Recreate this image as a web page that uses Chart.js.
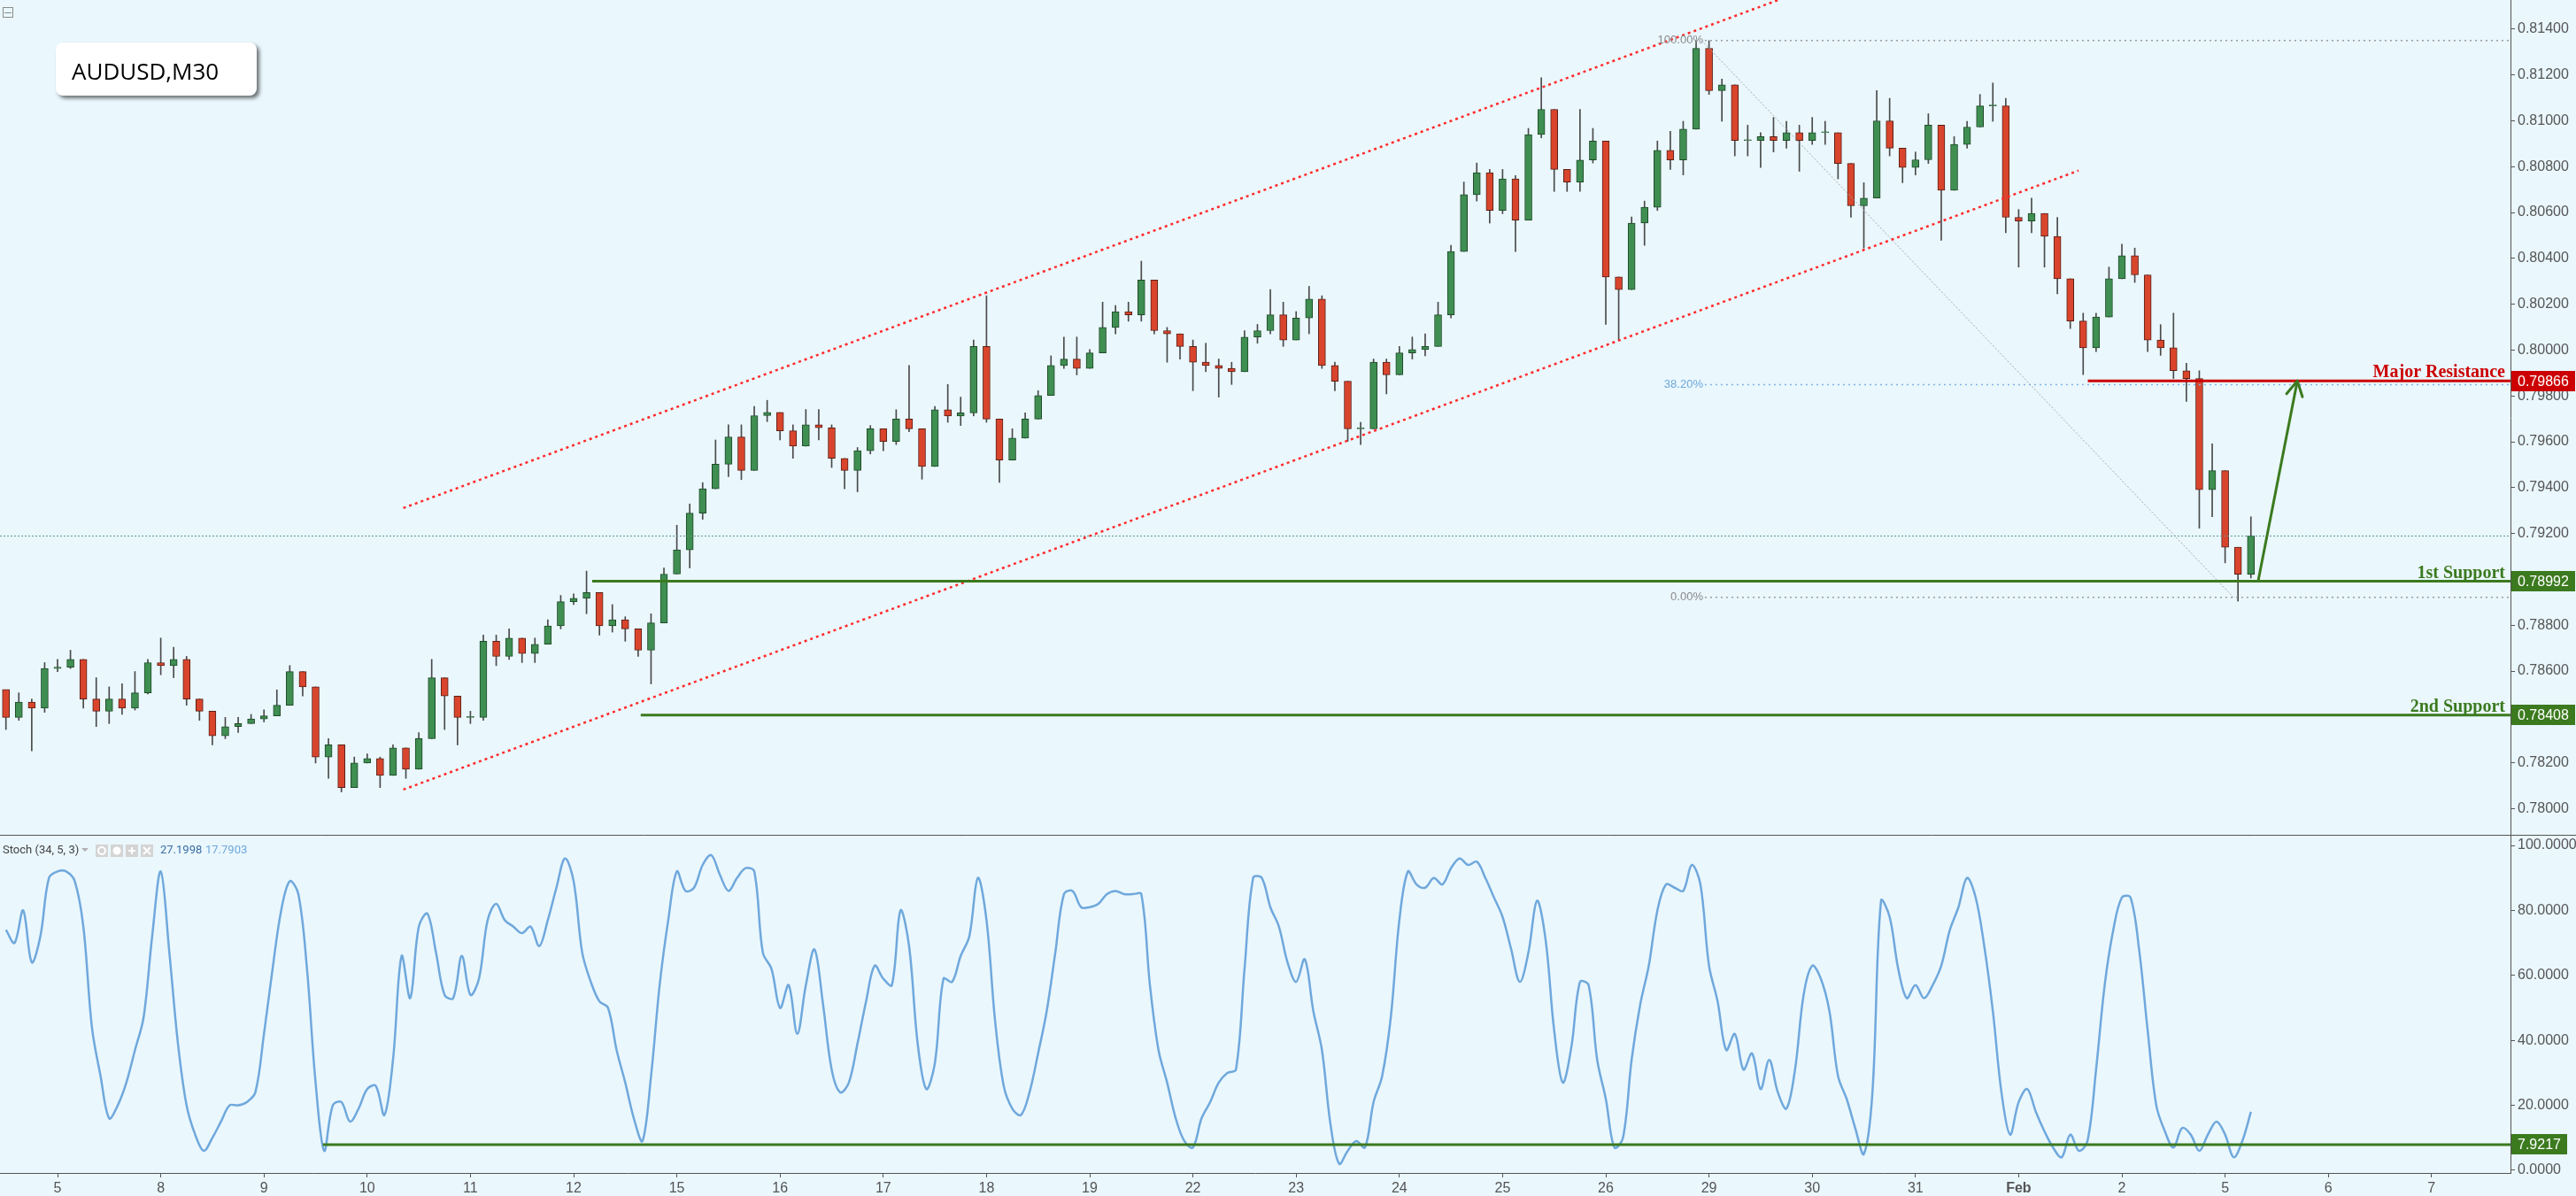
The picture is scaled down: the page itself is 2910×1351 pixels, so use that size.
<!DOCTYPE html>
<html>
<head>
<meta charset="utf-8">
<title>AUDUSD,M30</title>
<script src="https://cdn.jsdelivr.net/npm/chart.js@4.4.1/dist/chart.umd.min.js"></script>
<style>
  html, body { margin: 0; padding: 0; background: #eaf7fd; }
  #wrap { position: relative; width: 2910px; height: 1351px; overflow: hidden; }
  #priceBox { position: absolute; left: 0; top: 0; width: 2910px; height: 944px; }
  #stochBox { position: absolute; left: 0; top: 944px; width: 2910px; height: 407px; }
</style>
</head>
<body>
<div id="wrap">
  <div id="priceBox"><canvas id="price"></canvas></div>
  <div id="stochBox"><canvas id="stoch"></canvas></div>
</div>
<script>
// x values are trading days counted from the "5" label; one bar = 3 hours
const dayLabels = ['5', '8', '9', '10', '11', '12', '15', '16', '17', '18', '19', '22', '23', '24', '25', '26', '29', '30', '31', 'Feb', '2', '5', '6', '7'];
const priceTicks = [0.780, 0.782, 0.784, 0.786, 0.788, 0.790, 0.792, 0.794, 0.796, 0.798, 0.800, 0.802, 0.804, 0.806, 0.808, 0.810, 0.812, 0.814];
const stochTicks = [0, 20, 40, 60, 80, 100];

const firstBarDay = -0.5;
const barStep = 0.125;
const firstOpen = 0.78520;

const priceClose = [
  .78398, .78465, .78438, .78611, .78617, .78651, .78478, .78425, .78478, .78438,
  .78505, .78637, .78624, .78651, .78478, .78425, .78318, .78358, .78371, .78391,
  .78405, .78451, .78598, .78531, .78225, .78278, .78092, .78199, .78219, .78145,
  .78265, .78172, .78305, .78571, .78491, .78398, .78398, .78730, .78664, .78744,
  .78677, .78717, .78797, .78903, .78917, .78943, .78797, .78824, .78784, .78691,
  .78810, .79023, .79129, .79289, .79395, .79502, .79621, .79475, .79714, .79728,
  .79648, .79581, .79674, .79661, .79528, .79475, .79561, .79657, .79602, .79699,
  .79657, .79492, .79740, .79713, .79726, .80016, .79699, .79520, .79616, .79699,
  .79802, .79933, .79961, .79920, .79988, .80099, .80168, .80154, .80306, .80085,
  .80071, .80016, .79947, .79933, .79920, .79906, .80057, .80085, .80154, .80044,
  .80140, .80223, .79933, .79864, .79657, .79657, .79947, .79892, .79988, .80002,
  .80016, .80154, .80430, .80678, .80774, .80609, .80747, .80567, .80940, .81050,
  .80788, .80733, .80829, .80912, .80319, .80264, .80554, .80623, .80871, .80829,
  .80964, .81316, .81132, .81157, .80914, .80914, .80931, .80914, .80948, .80914,
  .80948, .80948, .80814, .80630, .80663, .81000, .80881, .80797, .80830, .80981,
  .80697, .80897, .80973, .81065, .81065, .80579, .80563, .80596, .80496, .80311,
  .80127, .80010, .80144, .80311, .80412, .80328, .80044, .80010, .79910, .79876,
  .79391, .79474, .79140, .79022, .79190
];
const priceHigh = [
  .78518, .78505, .78478, .78637, .78651, .78691, .78651, .78571, .78531, .78545,
  .78598, .78651, .78744, .78704, .78664, .78478, .78425, .78398, .78398, .78411,
  .78431, .78518, .78624, .78598, .78531, .78305, .78278, .78225, .78239, .78225,
  .78278, .78265, .78332, .78651, .78571, .78491, .78425, .78757, .78757, .78784,
  .78744, .78744, .78824, .78930, .78937, .79036, .78943, .78890, .78837, .78784,
  .78850, .79050, .79236, .79329, .79422, .79608, .79674, .79674, .79754, .79781,
  .79728, .79674, .79741, .79741, .79674, .79528, .79575, .79671, .79657, .79740,
  .79933, .79657, .79754, .79850, .79795, .80044, .80237, .79699, .79657, .79726,
  .79823, .79975, .80057, .80057, .80002, .80209, .80195, .80209, .80388, .80306,
  .80099, .80071, .80044, .80030, .79961, .79947, .80085, .80112, .80264, .80209,
  .80168, .80278, .80237, .79947, .79864, .79685, .79961, .79961, .80016, .80057,
  .80071, .80209, .80457, .80733, .80816, .80788, .80788, .80761, .80967, .81188,
  .81050, .80788, .81050, .80967, .80912, .80319, .80581, .80650, .80912, .80954,
  .80998, .81350, .81350, .81182, .81157, .80981, .80948, .81015, .80998, .80981,
  .81015, .80998, .80948, .80814, .80730, .81132, .81098, .80881, .80864, .81031,
  .80981, .80931, .80998, .81115, .81165, .81098, .80613, .80663, .80596, .80579,
  .80311, .80161, .80161, .80362, .80462, .80445, .80328, .80111, .80161, .79943,
  .79910, .79591, .79474, .79140, .79273
];
const priceLow = [
  .78345, .78385, .78252, .78420, .78598, .78611, .78438, .78358, .78371, .78411,
  .78430, .78500, .78584, .78571, .78451, .78385, .78278, .78305, .78332, .78371,
  .78378, .78411, .78451, .78491, .78199, .78132, .78073, .78092, .78199, .78092,
  .78145, .78132, .78172, .78305, .78345, .78278, .78371, .78385, .78624, .78651,
  .78637, .78637, .78717, .78784, .78890, .78850, .78757, .78770, .78730, .78664,
  .78544, .78810, .79023, .79050, .79262, .79395, .79448, .79435, .79475, .79688,
  .79608, .79528, .79581, .79608, .79488, .79395, .79382, .79547, .79561, .79588,
  .79644, .79437, .79492, .79685, .79671, .79713, .79685, .79423, .79520, .79616,
  .79699, .79802, .79920, .79892, .79920, .79988, .80071, .80126, .80126, .80071,
  .79947, .79961, .79823, .79906, .79795, .79850, .79906, .80030, .80071, .80016,
  .80044, .80071, .79920, .79823, .79602, .79588, .79657, .79809, .79892, .79961,
  .79975, .80016, .80140, .80430, .80650, .80554, .80595, .80430, .80567, .80926,
  .80692, .80692, .80692, .80816, .80112, .80043, .80264, .80457, .80609, .80788,
  .80764, .80964, .81115, .80998, .80847, .80847, .80797, .80864, .80881, .80780,
  .80897, .80897, .80747, .80579, .80445, .80663, .80847, .80730, .80764, .80814,
  .80479, .80697, .80881, .80973, .80998, .80512, .80362, .80512, .80362, .80245,
  .80094, .79893, .79993, .80144, .80311, .80295, .79993, .79977, .79876, .79776,
  .79223, .79273, .79072, .78905, .79006
];

// Stoch %K, one value every 2 hours
const stochFirstDay = -0.5;
const stochStep = 1 / 12;
const stochValues = [
  74, 70, 80, 64, 72, 90, 92, 92, 89, 75, 44, 29, 16, 20, 27, 37, 47, 72, 92, 67,
  39, 20, 11, 6, 10, 15, 20, 20, 21, 24, 42, 62, 80, 89, 85, 62, 27, 6, 20, 21,
  15, 19, 25, 26, 17, 34, 66, 53, 75, 79, 67, 54, 53, 66, 54, 59, 77, 82, 77, 75,
  73, 75, 69, 77, 87, 96, 89, 67, 58, 52, 50, 37, 27, 16, 9, 29, 57, 77, 92, 86,
  87, 94, 97, 91, 86, 90, 93, 92, 67, 62, 50, 57, 42, 57, 68, 51, 31, 24, 27, 39,
  52, 63, 59, 57, 80, 69, 39, 25, 33, 59, 58, 66, 72, 90, 77, 46, 26, 19, 17, 24,
  36, 49, 67, 85, 86, 81, 81, 82, 85, 86, 85, 85, 85, 57, 37, 27, 16, 9, 7, 16,
  21, 27, 30, 31, 62, 90, 90, 81, 75, 64, 58, 65, 49, 37, 14, 2, 6, 9, 7, 21,
  29, 47, 77, 92, 88, 87, 90, 88, 93, 96, 94, 95, 90, 84, 78, 68, 58, 67, 83, 71,
  43, 27, 38, 58, 57, 34, 22, 7, 10, 34, 51, 63, 80, 88, 87, 86, 94, 88, 63, 52,
  37, 42, 31, 36, 25, 34, 24, 19, 31, 54, 63, 59, 49, 29, 22, 13, 5, 24, 83, 78,
  62, 53, 57, 53, 57, 63, 74, 81, 90, 84, 69, 49, 24, 11, 21, 25, 18, 12, 7, 4,
  11, 6, 9, 31, 57, 74, 84, 84, 68, 43, 20, 12, 7, 13, 11, 6, 11, 15, 11, 4,
  9, 18
];
const stochLast = [27.1998, 17.7903];
const stochLevel = 7.9217;
const stochLevelStart = 2.57;

// drawings on the price pane: [day, price]
const channelUpper = [[3.35, 0.79311], [17.2, 0.81615]];
const channelLower = [[3.35, 0.78083], [19.58, 0.80783]];
const fibHigh = 0.81350;
const fibLow = 0.78922;
const fibRatios = [1, 0.382, 0];
const fibStartDay = 15.96;
const fibDiagonal = [[15.93, 0.81350], [21.08, 0.78922]];
const levelValues = [0.79866, 0.78992, 0.78408];
const levelNames = ['Major Resistance', '1st Support', '2nd Support'];
const levelStartDays = [19.67, 5.18, 5.65];
const lastPrice = 0.79189;
const arrowLine = [[21.32, 0.78992], [21.70, 0.79866]];

const X_MIN = -0.5575, X_MAX = 23.765;
const PRICE_MIN = 0.77882, PRICE_MAX = 0.81527;
const STOCH_MIN = -0.82, STOCH_MAX = 103;

const BG = '#eaf7fd';
const AXIS = '#555555';
const TICK_FONT = { family: '"Liberation Sans", Arial, sans-serif', size: 16 };
const RED = '#cc0000';
const GREEN = '#3b7a1e';
const levelColors = [RED, GREEN, GREEN];

function lineSet(points, color, width, dash, order) {
  return {
    type: 'line',
    data: points.map(([x, y]) => ({ x, y })),
    borderColor: color,
    borderWidth: width,
    borderDash: dash || [],
    pointRadius: 0,
    fill: false,
    tension: 0,
    order: order === undefined ? 0 : order,
  };
}

// keep the plot areas exactly where the reference has them
function noPadding(scale) {
  scale.paddingTop = 0;
  scale.paddingBottom = 0;
  scale.paddingLeft = 0;
  scale.paddingRight = 0;
}
function fixedAxisWidth(scale) {
  scale.width = 74;
  noPadding(scale);
}

const barDays = priceClose.map((_, i) => firstBarDay + i * barStep);
const opens = priceClose.map((c, i) => (i === 0 ? firstOpen : priceClose[i - 1]));
const isUp = priceClose.map((c, i) => c >= opens[i]);

const priceDatasets = [
  {
    type: 'bar',
    data: barDays.map((x, i) => ({ x, y: [priceLow[i], priceHigh[i]] })),
    backgroundColor: '#4a4a4a',
    barThickness: 1,
    order: 6,
  },
  {
    type: 'bar',
    data: barDays.map((x, i) => ({ x, y: [opens[i], priceClose[i]] })),
    backgroundColor: isUp.map((u) => (u ? '#3f8e52' : '#d9452c')),
    borderColor: isUp.map((u) => (u ? '#1f4a28' : '#5a1f16')),
    borderWidth: 1,
    borderSkipped: false,
    barThickness: 8,
    minBarLength: 1,
    order: 5,
  },
  lineSet([[X_MIN, lastPrice], [X_MAX, lastPrice]], '#5f9a87', 1, [2, 2], 4),
  lineSet(channelUpper, '#ff2a2a', 2.5, [3, 4], 1),
  lineSet(channelLower, '#ff2a2a', 2.5, [3, 4], 1),
  lineSet(fibDiagonal, '#a0a8ad', 1, [2, 2], 3),
];
fibRatios.forEach((r) => {
  const v = fibLow + (fibHigh - fibLow) * r;
  priceDatasets.push(lineSet([[fibStartDay, v], [X_MAX, v]], r === 0.382 ? '#7fb3e3' : '#9a9a9a', 1.5, [2, 4], 3));
});
levelValues.forEach((v, i) => {
  priceDatasets.push(lineSet([[levelStartDays[i], v], [X_MAX, v]], levelColors[i], 3, [], 0));
});
priceDatasets.push(lineSet(arrowLine, GREEN, 3, [], 0));

function axisTag(ctx, area, y, text, color, width) {
  ctx.fillStyle = color;
  ctx.fillRect(area.right + 1, Math.round(y - 11.5), width, 23);
  ctx.fillStyle = '#ffffff';
  ctx.font = '16px "Liberation Sans", Arial, sans-serif';
  ctx.textAlign = 'left';
  ctx.textBaseline = 'middle';
  ctx.fillText(text, area.right + 8, y + 1);
}

const priceDecor = {
  id: 'priceDecor',
  afterDraw(chart) {
    const { ctx, chartArea: area, scales } = chart;
    const xs = scales.x, ys = scales.y;
    ctx.save();

    // level captions and price tags
    levelValues.forEach((v, i) => {
      const y = ys.getPixelForValue(v);
      ctx.font = 'bold 20px "Liberation Serif", "Times New Roman", serif';
      ctx.fillStyle = levelColors[i];
      ctx.textAlign = 'right';
      ctx.textBaseline = 'alphabetic';
      ctx.fillText(levelNames[i], area.right - 6, y - 4);
      axisTag(ctx, area, y, v.toFixed(5), levelColors[i], 72);
    });

    // fib captions
    fibRatios.forEach((r) => {
      const v = fibLow + (fibHigh - fibLow) * r;
      ctx.font = '13px "Liberation Sans", Arial, sans-serif';
      ctx.fillStyle = r === 0.382 ? '#6fa8dc' : '#8a8a8a';
      ctx.textAlign = 'right';
      ctx.textBaseline = 'middle';
      ctx.fillText((r * 100).toFixed(2) + '%', xs.getPixelForValue(fibStartDay) - 2, ys.getPixelForValue(v));
    });

    // arrow head
    const p0 = { x: xs.getPixelForValue(arrowLine[0][0]), y: ys.getPixelForValue(arrowLine[0][1]) };
    const p1 = { x: xs.getPixelForValue(arrowLine[1][0]), y: ys.getPixelForValue(arrowLine[1][1]) };
    const ang = Math.atan2(p1.y - p0.y, p1.x - p0.x);
    ctx.strokeStyle = GREEN;
    ctx.lineWidth = 3;
    ctx.lineCap = 'round';
    ctx.beginPath();
    [-1, 1].forEach((s) => {
      ctx.moveTo(p1.x, p1.y);
      ctx.lineTo(p1.x - 19 * Math.cos(ang + s * 0.5), p1.y - 19 * Math.sin(ang + s * 0.5));
    });
    ctx.stroke();

    // pane separator
    ctx.strokeStyle = AXIS;
    ctx.lineWidth = 1;
    ctx.lineCap = 'butt';
    ctx.beginPath();
    ctx.moveTo(0, area.bottom - 0.5);
    ctx.lineTo(chart.width, area.bottom - 0.5);
    ctx.stroke();

    // collapse icon
    ctx.strokeStyle = '#8c8c8c';
    ctx.strokeRect(3.5, 8.5, 11, 11);
    ctx.beginPath();
    ctx.moveTo(5, 14.5);
    ctx.lineTo(13, 14.5);
    ctx.stroke();

    // symbol box
    ctx.save();
    ctx.shadowColor = 'rgba(0,0,0,0.55)';
    ctx.shadowBlur = 4;
    ctx.shadowOffsetX = 3;
    ctx.shadowOffsetY = 3;
    ctx.fillStyle = '#ffffff';
    ctx.beginPath();
    ctx.roundRect(63, 48, 227, 60, 8);
    ctx.fill();
    ctx.restore();
    ctx.fillStyle = '#000000';
    ctx.font = '26px "Open Sans", "Noto Sans", sans-serif';
    ctx.textAlign = 'left';
    ctx.textBaseline = 'alphabetic';
    ctx.fillText('AUDUSD,M30', 81, 90);

    ctx.restore();
  },
};

const stochDecor = {
  id: 'stochDecor',
  afterDraw(chart) {
    const { ctx, chartArea: area, scales } = chart;
    ctx.save();
    // hide the part of the 0 label that falls below the pane
    ctx.fillStyle = BG;
    ctx.fillRect(area.right + 1, area.bottom + 1, chart.width - area.right, chart.height - area.bottom);

    axisTag(ctx, area, scales.y.getPixelForValue(stochLevel), stochLevel.toFixed(4), GREEN, 63);

    ctx.font = '13px Roboto, "Liberation Sans", sans-serif';
    ctx.textBaseline = 'middle';
    ctx.textAlign = 'left';
    ctx.fillStyle = '#444444';
    ctx.fillText('Stoch (34, 5, 3)', 3, 17);
    ctx.fillStyle = '#b0b0b0';
    ctx.beginPath();
    ctx.moveTo(92, 14); ctx.lineTo(100, 14); ctx.lineTo(96, 18); ctx.closePath();
    ctx.fill();
    [108, 125, 142, 159].forEach((x, i) => {
      ctx.fillStyle = '#d4d4d4';
      ctx.fillRect(x, 10, 14, 14);
      ctx.strokeStyle = '#ffffff';
      ctx.fillStyle = '#ffffff';
      ctx.lineWidth = 2;
      ctx.beginPath();
      if (i === 0) { ctx.arc(x + 7, 17, 4, 0, Math.PI * 2); ctx.stroke(); }
      if (i === 1) { ctx.arc(x + 7, 17, 4.5, 0, Math.PI * 2); ctx.fill(); }
      if (i === 2) { ctx.moveTo(x + 3, 17); ctx.lineTo(x + 11, 17); ctx.moveTo(x + 7, 13); ctx.lineTo(x + 7, 21); ctx.stroke(); }
      if (i === 3) { ctx.moveTo(x + 3, 13); ctx.lineTo(x + 11, 21); ctx.moveTo(x + 11, 13); ctx.lineTo(x + 3, 21); ctx.stroke(); }
    });
    ctx.fillStyle = '#3a6ea5';
    ctx.fillText(stochLast[0].toFixed(4), 181, 17);
    ctx.fillStyle = '#6fa8dc';
    ctx.fillText(stochLast[1].toFixed(4), 232, 17);
    ctx.restore();
  },
};

new Chart(document.getElementById('price'), {
  type: 'bar',
  data: { datasets: priceDatasets },
  options: {
    responsive: true,
    maintainAspectRatio: false,
    animation: false,
    devicePixelRatio: 1,
    layout: { padding: 0 },
    datasets: { bar: { grouped: false } },
    plugins: { legend: { display: false }, tooltip: { enabled: false } },
    scales: {
      x: { type: 'linear', min: X_MIN, max: X_MAX, offset: false, display: false, grid: { offset: false } },
      y: {
        type: 'linear',
        position: 'right',
        min: PRICE_MIN,
        max: PRICE_MAX,
        afterFit: fixedAxisWidth,
        afterBuildTicks: (s) => { s.ticks = priceTicks.map((v) => ({ value: v })); },
        ticks: { callback: (v) => Number(v).toFixed(5), color: AXIS, font: TICK_FONT, padding: 3 },
        grid: { drawOnChartArea: false, drawTicks: true, tickLength: 5, color: AXIS },
        border: { display: true, color: AXIS, width: 1 },
      },
    },
  },
  plugins: [priceDecor],
});

new Chart(document.getElementById('stoch'), {
  type: 'line',
  data: {
    datasets: [
      {
        data: stochValues.map((v, j) => ({ x: stochFirstDay + j * stochStep, y: v })),
        borderColor: '#6fa8dc',
        borderWidth: 2.5,
        pointRadius: 0,
        tension: 0.35,
        order: 1,
      },
      lineSet([[stochLevelStart, stochLevel], [X_MAX, stochLevel]], GREEN, 3, [], 0),
    ],
  },
  options: {
    responsive: true,
    maintainAspectRatio: false,
    animation: false,
    devicePixelRatio: 1,
    layout: { padding: 0 },
    plugins: { legend: { display: false }, tooltip: { enabled: false } },
    scales: {
      x: {
        type: 'linear',
        min: X_MIN,
        max: X_MAX,
        afterFit: (s) => { s.height = 26; noPadding(s); },
        afterBuildTicks: (s) => { s.ticks = dayLabels.map((_, i) => ({ value: i })); },
        ticks: {
          autoSkip: false,
          maxRotation: 0,
          padding: 3,
          color: AXIS,
          callback: (v) => dayLabels[Math.round(v)],
          font: (c) => ({ ...TICK_FONT, weight: c.tick && dayLabels[c.tick.value] === 'Feb' ? 'bold' : 'normal' }),
        },
        grid: { drawOnChartArea: false, drawTicks: true, tickLength: 5, color: AXIS },
        border: { display: true, color: AXIS, width: 1 },
      },
      y: {
        type: 'linear',
        position: 'right',
        min: STOCH_MIN,
        max: STOCH_MAX,
        afterFit: fixedAxisWidth,
        afterBuildTicks: (s) => { s.ticks = stochTicks.map((v) => ({ value: v })); },
        ticks: { callback: (v) => Number(v).toFixed(4), color: AXIS, font: TICK_FONT, padding: 3 },
        grid: { drawOnChartArea: false, drawTicks: true, tickLength: 5, color: AXIS },
        border: { display: true, color: AXIS, width: 1 },
      },
    },
  },
  plugins: [stochDecor],
});
</script>
</body>
</html>
